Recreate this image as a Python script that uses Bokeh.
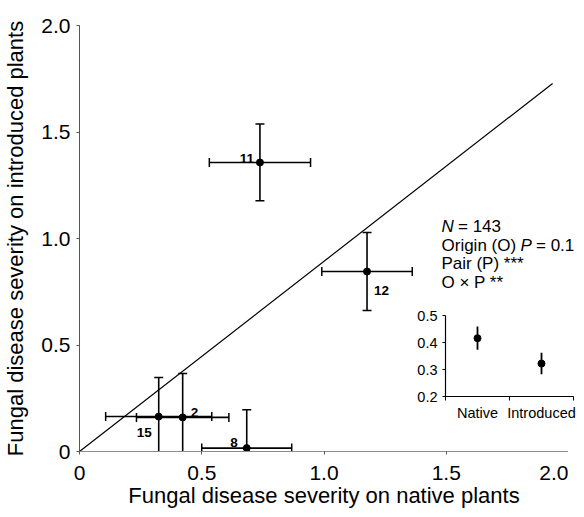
import math
from bokeh.plotting import figure
from bokeh.models import Range1d, FixedTicker, Label
from bokeh.layouts import column
from bokeh.embed import file_html
from bokeh.resources import INLINE
from bokeh.core.properties import value

# ---------------- data ----------------
pair_ids = ["11", "12", "15", "2", "8"]
native_mean = [0.738, 1.176, 0.324, 0.422, 0.684]
native_err = [0.207, 0.185, 0.217, 0.189, 0.184]
intro_mean = [1.357, 0.845, 0.164, 0.160, 0.016]
intro_err = [0.180, 0.183, 0.183, 0.206, 0.180]

ref_line_x = [0.0, 1.935]
ref_line_y = [0.0, 1.728]

x_ticks = [0, 0.5, 1.0, 1.5, 2.0]
x_tick_labels = ["0", "0.5", "1.0", "1.5", "2.0"]
y_ticks = [0, 0.5, 1.0, 1.5, 2.0]
y_tick_labels = ["0", "0.5", "1.0", "1.5", "2.0"]

inset_origin = ["Native", "Introduced"]
inset_mean = [0.416, 0.322]
inset_err = [0.043, 0.040]
inset_y_ticks = [0.2, 0.3, 0.4, 0.5]

x_title = "Fungal disease severity on native plants"
y_title = "Fungal disease severity on introduced plants"

# ---------------- style / layout ----------------
FONT = "Liberation Sans"
MAIN_W, MAIN_H = 568, 514

# overlay layer for free text (page coordinates of its box)
TXT_LEFT, TXT_TOP, TXT_W, TXT_H = 405, 200, 171, 220
# inset geometry (page coordinates of its box)
INS_LEFT, INS_TOP, INS_W = 405, 300, 171
INS_BL, INS_BR, INS_BT, INS_BB = 40, 3, 15, 8
INS_FRAME_H = 81
INS_H = INS_BT + INS_FRAME_H + INS_BB

# ---------------- main plot ----------------
p = figure(width=MAIN_W, height=MAIN_H, x_range=Range1d(0, 2), y_range=Range1d(0, 2),
           output_backend="svg", toolbar_location=None, frame_align=False,
           min_border_left=73, min_border_right=0, min_border_top=25, min_border_bottom=63)
p.outline_line_color = None
p.grid.visible = False
p.background_fill_color = "white"
p.border_fill_color = "white"

p.xaxis.ticker = FixedTicker(ticks=x_ticks, minor_ticks=[])
p.xaxis.major_label_overrides = dict(zip(x_ticks, x_tick_labels))
p.yaxis.ticker = FixedTicker(ticks=y_ticks, minor_ticks=[])
p.yaxis.major_label_overrides = dict(zip(y_ticks, y_tick_labels))
p.xaxis.axis_label = x_title
p.yaxis.axis_label = y_title

for ax in (p.xaxis[0], p.yaxis[0]):
    ax.major_label_text_font = FONT
    ax.major_label_text_font_size = "21px"
    ax.major_label_text_color = "black"
    ax.axis_label_text_font = FONT
    ax.axis_label_text_font_size = "22px"
    ax.axis_label_text_font_style = "normal"
    ax.axis_label_text_color = "black"
    ax.major_tick_in = 0
    ax.major_tick_out = 3
    ax.minor_tick_in = 0
    ax.minor_tick_out = 0

p.xaxis.axis_line_color = "#8c8c8c"
p.xaxis.major_tick_line_color = "#555555"
p.xaxis.major_label_standoff = 11
p.xaxis.axis_label_standoff = 0
p.yaxis.axis_line_color = "#555555"
p.yaxis.major_tick_line_color = "#555555"
p.yaxis.major_label_standoff = 6
p.yaxis.axis_label_standoff = 10

# reference line
p.line(ref_line_x, ref_line_y, line_color="black", line_width=1.2)

# error bars
xlo = [m - e for m, e in zip(native_mean, native_err)]
xhi = [m + e for m, e in zip(native_mean, native_err)]
ylo = [m - e for m, e in zip(intro_mean, intro_err)]
yhi = [m + e for m, e in zip(intro_mean, intro_err)]

p.segment(x0=native_mean, y0=ylo, x1=native_mean, y1=yhi, line_color="black", line_width=1.6)
p.segment(x0=xlo, y0=intro_mean, x1=xhi, y1=intro_mean, line_color="black", line_width=1.6)
p.scatter(native_mean + native_mean, ylo + yhi, marker="dash", size=9,
          line_color="black", line_width=1.5)
p.scatter(xlo + xhi, intro_mean + intro_mean, marker="dash", size=9, angle=math.pi / 2,
          line_color="black", line_width=1.5)

# means
p.scatter(native_mean, intro_mean, size=7, fill_color="black", line_color="black")

# pair labels (placement offsets in pixels)
label_dx = [-6, 7, -7, 8, -9]
label_dy = [-4, 19, 16, -5, -6]
label_align = ["right", "left", "right", "left", "right"]
for i, pid in enumerate(pair_ids):
    p.text(x=[native_mean[i]], y=[intro_mean[i]], text=[pid],
           x_offset=label_dx[i], y_offset=label_dy[i],
           text_align=label_align[i], text_baseline="alphabetic",
           text_font=value(FONT), text_font_size="13.5px", text_font_style="bold",
           text_color="black")

# ---------------- text overlay layer ----------------
txt = figure(width=TXT_W, height=TXT_H,
             x_range=Range1d(TXT_LEFT, TXT_LEFT + TXT_W),
             y_range=Range1d(TXT_TOP + TXT_H, TXT_TOP),
             output_backend="svg", toolbar_location=None, frame_align=False,
             min_border=0, min_border_left=0, min_border_right=0,
             min_border_top=0, min_border_bottom=0)
txt.axis.visible = False
txt.grid.visible = False
txt.outline_line_color = None
txt.background_fill_alpha = 0
txt.border_fill_alpha = 0

# statistics text block: (line, text, x offset px, style)
stat_pieces = [
    (0, "N", 0, "italic"),
    (0, "= 143", 16.5, "normal"),
    (1, "Origin (O)", 0, "normal"),
    (1, "P", 79.0, "italic"),
    (1, "= 0.1", 94.5, "normal"),
    (2, "Pair (P) ***", 0, "normal"),
    (3, "O \u00d7 P **", 0, "normal"),
]
stat_left = 441
stat_baselines = [226, 244.5, 263, 281.5]
for line_i, t, dx, style in stat_pieces:
    txt.add_layout(Label(x=stat_left, y=stat_baselines[line_i], text=t, x_offset=dx,
                         text_font=FONT, text_font_size="17px", text_font_style=style,
                         text_color="black", text_baseline="alphabetic", text_align="left"))

# inset category labels, placed under the inset's category centres
inset_x = [i + 0.5 for i in range(len(inset_origin))]
ins_frame_left = INS_LEFT + INS_BL
ins_frame_w = INS_W - INS_BL - INS_BR
ins_axis_y = INS_TOP + INS_BT + INS_FRAME_H
for xi, name in zip(inset_x, inset_origin):
    sx = ins_frame_left + xi / len(inset_origin) * ins_frame_w
    txt.add_layout(Label(x=sx, y=ins_axis_y + 16, text=name,
                         text_font=FONT, text_font_size="14.5px",
                         text_color="black", text_baseline="alphabetic", text_align="center"))

# ---------------- inset ----------------
ins = figure(width=INS_W, height=INS_H, x_range=Range1d(0, len(inset_origin)),
             y_range=Range1d(0.2, 0.5),
             output_backend="svg", toolbar_location=None, frame_align=False,
             min_border_left=INS_BL, min_border_right=INS_BR,
             min_border_top=INS_BT, min_border_bottom=INS_BB)
ins.background_fill_alpha = 0
ins.border_fill_alpha = 0
ins.outline_line_color = None
ins.grid.visible = False

ins.xaxis.ticker = FixedTicker(ticks=[], minor_ticks=list(range(len(inset_origin) + 1)))
ins.xaxis.major_label_text_font_size = "0px"
ins.xaxis.major_tick_out = 0
ins.xaxis.major_tick_in = 0
ins.xaxis.minor_tick_out = 4
ins.xaxis.minor_tick_in = 0
ins.xaxis.major_label_standoff = 0
ins.yaxis.ticker = FixedTicker(ticks=inset_y_ticks, minor_ticks=[])
ins.yaxis.major_tick_out = 3
ins.yaxis.major_tick_in = 0
ins.yaxis.major_label_standoff = 5
ins.yaxis.major_label_text_font = FONT
ins.yaxis.major_label_text_font_size = "14.5px"
ins.yaxis.major_label_text_color = "black"
for ax in (ins.xaxis[0], ins.yaxis[0]):
    ax.axis_line_color = "black"
    ax.axis_line_width = 1.2
    ax.major_tick_line_color = "black"
    ax.minor_tick_line_color = "black"

ilo = [m - e for m, e in zip(inset_mean, inset_err)]
ihi = [m + e for m, e in zip(inset_mean, inset_err)]
ins.segment(x0=inset_x, y0=ilo, x1=inset_x, y1=ihi, line_color="black", line_width=1.8)
ins.scatter(inset_x, inset_mean, size=7, fill_color="black", line_color="black")

# ---------------- overlay by absolute positioning (page coordinates) ----------------
txt.styles = {"position": "absolute", "left": f"{TXT_LEFT}px", "top": f"{TXT_TOP}px"}
ins.styles = {"position": "absolute", "left": f"{INS_LEFT}px", "top": f"{INS_TOP}px"}

layout = column(p, txt, ins, spacing=0)

open("out.html", "w").write(file_html(layout, INLINE))
